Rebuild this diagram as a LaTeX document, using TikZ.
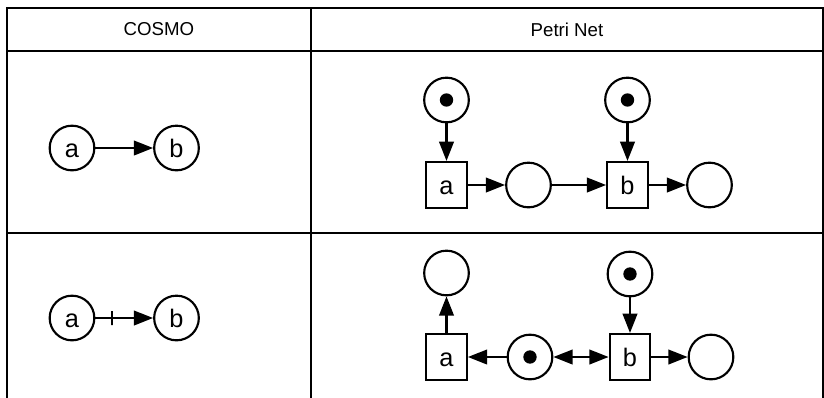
\documentclass[tikz,border=0pt]{standalone}
\usepackage{fontspec}
\setmainfont{Liberation Sans}
\usetikzlibrary{arrows.meta,positioning}

\begin{document}
\begin{tikzpicture}[x=0.75pt, y=-0.75pt,
  place/.style={draw, circle, line width=1.6pt, minimum size=33.5pt, inner sep=0pt, text height=13.6pt, text depth=0pt, font=\fontsize{19}{22}\selectfont},
  token/.style={place, path picture={\fill (path picture bounding box.center) circle (5pt);}},
  trans/.style={draw, rectangle, line width=1.6pt, minimum width=30.5pt, minimum height=34.5pt, inner sep=0pt, text height=13.6pt, text depth=0pt, font=\fontsize{19}{22}\selectfont},
  conn/.style={line width=1.6pt, -{Triangle[length=14.5pt, width=11pt]}},
  tick/.style={draw, line width=1.6pt, minimum width=0pt, minimum height=10.5pt, inner sep=0pt, outer sep=0pt},
  grid/.style={line width=1.7pt, line cap=rect}]
  \useasboundingbox (0,0) rectangle (824,397);

  % table frame
  \draw[grid] (7,397) -- (7,8) -- (823,8) -- (823,397);
  \draw[grid] (7,51) -- (823,51);
  \draw[grid] (7,233) -- (823,233);
  \draw[grid] (311,8) -- (311,397);
  \node[font=\fontsize{14}{16}\selectfont] (hcosmo) at (159,29.5) {COSMO};
  \node[font=\fontsize{14}{16}\selectfont] (hpetri) at (567,29.5) {Petri Net};

  % COSMO, row 1
  \node[place] (ca) at (72,148) {a};
  \node[place] (cb) at (176.5,148) {b};
  \draw[conn] (ca) -- (cb);

  % COSMO, row 2
  \node[place] (da) at (72,318) {a};
  \node[place] (db) at (176.5,318) {b};
  \draw[conn] (da) -- node[tick, pos=0.29] (dtick) {} (db);

  % Petri net, row 1
  \node[token] (p1) at (446.5,100) {};
  \node[trans] (ta) at (446.5,185) {a};
  \node[place] (p2) at (528.5,185) {};
  \node[trans] (tb) at (627.5,185) {b};
  \node[token] (p3) at (627.5,100) {};
  \node[place] (p4) at (709.5,185) {};
  \draw[conn] (p1) -- (ta);
  \draw[conn] (ta) -- (p2);
  \draw[conn] (p2) -- (tb);
  \draw[conn] (p3) -- (tb);
  \draw[conn] (tb) -- (p4);

  % Petri net, row 2
  \node[place] (q1) at (446.5,273) {};
  \node[trans] (ua) at (446.5,357) {a};
  \node[token] (q2) at (530,357) {};
  \node[trans] (ub) at (630,357) {b};
  \node[token] (q3) at (630,274) {};
  \node[place] (q4) at (711,357) {};
  \draw[conn] (ua) -- (q1);
  \draw[conn] (q2) -- (ua);
  \draw[conn, {Triangle[length=14.5pt, width=11pt]}-{Triangle[length=14.5pt, width=11pt]}] (q2) -- (ub);
  \draw[conn] (q3) -- (ub);
  \draw[conn] (ub) -- (q4);
\end{tikzpicture}
\end{document}
